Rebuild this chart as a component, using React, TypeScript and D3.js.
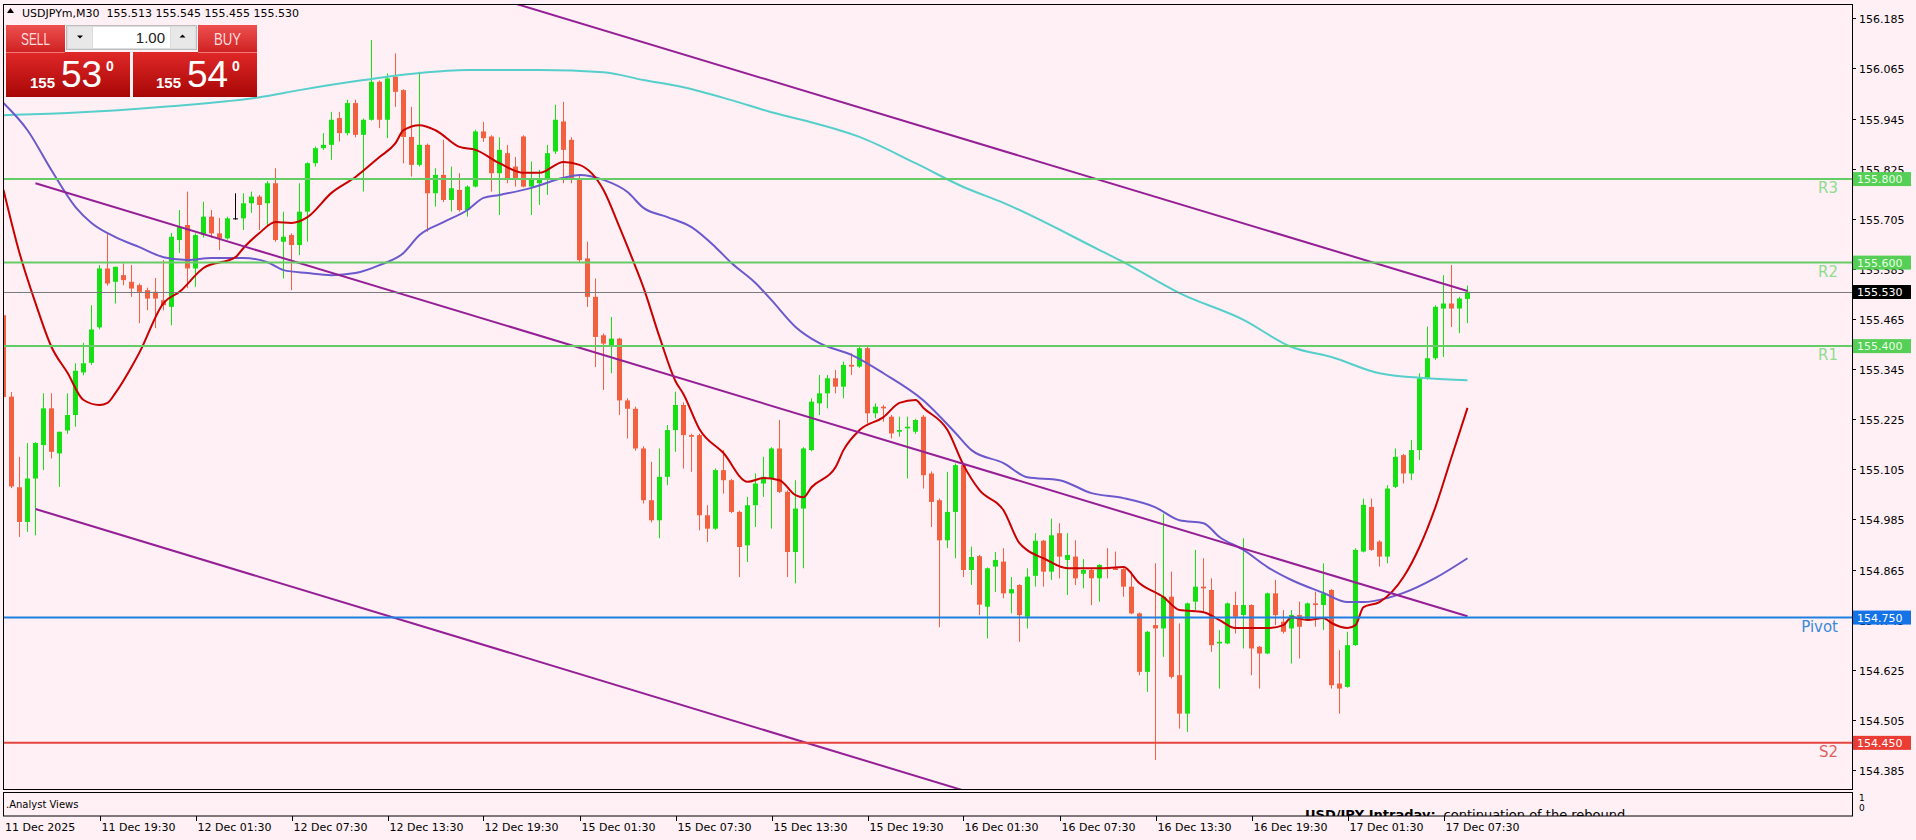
import React, { useEffect, useRef } from 'react';
import * as d3 from 'd3';

// USDJPYm M30 candles, 11 Dec 13:30 .. 17 Dec 09:00
const opens = [
  155.474, 155.279, 155.062, 154.979, 155.083, 155.163, 155.251, 155.143, 155.198, 155.235,
  155.337, 155.36, 155.445, 155.586, 155.554, 155.57, 155.554, 155.546, 155.534, 155.53,
  155.51, 155.494, 155.654, 155.69, 155.586, 155.666, 155.71, 155.67, 155.658, 155.706,
  155.706, 155.742, 155.758, 155.742, 155.79, 155.65, 155.666, 155.642, 155.722, 155.838,
  155.874, 155.882, 155.946, 155.91, 155.982, 155.906, 155.942, 156.033, 155.942, 156.045,
  156.013, 155.901, 155.834, 155.882, 155.766, 155.81, 155.75, 155.774, 155.726, 155.782,
  155.914, 155.902, 155.814, 155.862, 155.83, 155.902, 155.782, 155.79, 155.798, 155.866,
  155.938, 155.894, 155.802, 155.61, 155.518, 155.426, 155.398, 155.418, 155.27, 155.25,
  155.155, 155.031, 154.983, 155.087, 155.199, 155.259, 155.187, 155.187, 154.995, 154.963,
  155.103, 155.079, 155.003, 154.923, 155.019, 155.071, 155.083, 155.155, 155.051, 154.907,
  155.011, 155.151, 155.263, 155.287, 155.323, 155.303, 155.355, 155.351, 155.395, 155.239,
  155.255, 155.231, 155.195, 155.203, 155.195, 155.231, 155.095, 155.031, 154.935, 155.003,
  155.115, 154.864, 154.897, 154.776, 154.872, 154.884, 154.808, 154.828, 154.752, 154.85,
  154.934, 154.86, 154.952, 154.888, 154.896, 154.855, 154.864, 154.844, 154.87, 154.868,
  154.866, 154.824, 154.76, 154.62, 154.732, 154.724, 154.8, 154.612, 154.52, 154.788,
  154.824, 154.816, 154.688, 154.688, 154.78, 154.756, 154.78, 154.68, 154.664, 154.808,
  154.74, 154.724, 154.756, 154.744, 154.784, 154.78, 154.816, 154.592, 154.584, 154.684,
  154.908, 155.015, 154.932, 154.896, 155.063, 155.139, 155.095, 155.151, 155.323, 155.371,
  155.49, 155.502, 155.49, 155.513,
];
const highs = [
  155.541, 155.29, 155.135, 155.168, 155.17, 155.287, 155.287, 155.195, 155.287, 155.359,
  155.408, 155.498, 155.594, 155.671, 155.59, 155.598, 155.594, 155.55, 155.54, 155.563,
  155.606, 155.671, 155.726, 155.77, 155.67, 155.746, 155.726, 155.707, 155.71, 155.766,
  155.766, 155.77, 155.762, 155.795, 155.826, 155.722, 155.67, 155.79, 155.84, 155.878,
  155.91, 155.961, 155.961, 155.99, 155.99, 155.945, 156.133, 156.036, 156.053, 156.101,
  156.015, 155.973, 156.057, 155.885, 155.826, 155.894, 155.83, 155.814, 155.785, 155.918,
  155.937, 155.905, 155.9, 155.882, 155.853, 155.905, 155.842, 155.822, 155.882, 155.978,
  155.985, 155.9, 155.81, 155.65, 155.562, 155.43, 155.47, 155.42, 155.275, 155.255,
  155.16, 155.123, 155.155, 155.211, 155.291, 155.265, 155.19, 155.19, 155.019, 155.107,
  155.151, 155.082, 155.006, 155.039, 155.095, 155.135, 155.158, 155.223, 155.055, 155.079,
  155.158, 155.275, 155.331, 155.331, 155.343, 155.363, 155.383, 155.398, 155.398, 155.263,
  155.259, 155.235, 155.231, 155.231, 155.226, 155.235, 155.1, 155.035, 155.099, 155.119,
  155.119, 154.92, 154.9, 154.87, 154.907, 154.916, 154.847, 154.83, 154.868, 154.952,
  154.936, 154.987, 154.976, 154.952, 154.935, 154.89, 154.866, 154.878, 154.916, 154.908,
  154.868, 154.86, 154.762, 154.718, 154.88, 154.999, 154.86, 154.736, 154.786, 154.912,
  154.892, 154.844, 154.72, 154.786, 154.812, 154.94, 154.782, 154.682, 154.81, 154.84,
  154.768, 154.768, 154.788, 154.786, 154.812, 154.88, 154.818, 154.672, 154.716, 154.916,
  155.035, 155.035, 154.935, 155.067, 155.155, 155.142, 155.175, 155.335, 155.447, 155.498,
  155.57, 155.594, 155.518, 155.545,
];
const lows = [
  155.222, 155.06, 154.943, 154.955, 154.947, 155.103, 155.131, 155.063, 155.19, 155.207,
  155.33, 155.355, 155.44, 155.545, 155.502, 155.546, 155.518, 155.455, 155.486, 155.443,
  155.486, 155.45, 155.623, 155.539, 155.542, 155.66, 155.659, 155.63, 155.655, 155.703,
  155.678, 155.719, 155.678, 155.686, 155.65, 155.562, 155.534, 155.618, 155.65, 155.83,
  155.87, 155.846, 155.89, 155.905, 155.9, 155.77, 155.94, 155.922, 155.898, 155.973,
  155.838, 155.806, 155.83, 155.674, 155.734, 155.745, 155.722, 155.722, 155.71, 155.78,
  155.889, 155.77, 155.714, 155.79, 155.782, 155.78, 155.714, 155.738, 155.762, 155.86,
  155.79, 155.79, 155.6, 155.494, 155.35, 155.295, 155.335, 155.235, 155.179, 155.15,
  155.023, 154.978, 154.94, 155.067, 155.147, 155.107, 155.099, 154.959, 154.931, 154.96,
  155.047, 155.0, 154.847, 154.883, 154.967, 155.039, 154.963, 155.048, 154.847, 154.832,
  154.868, 155.148, 155.235, 155.251, 155.287, 155.275, 155.331, 155.348, 155.215, 155.227,
  155.219, 155.179, 155.183, 155.083, 155.19, 155.059, 154.967, 154.727, 154.916, 154.892,
  154.847, 154.828, 154.756, 154.7, 154.811, 154.796, 154.76, 154.692, 154.724, 154.824,
  154.824, 154.84, 154.844, 154.804, 154.828, 154.82, 154.78, 154.788, 154.844, 154.864,
  154.8, 154.758, 154.612, 154.572, 154.409, 154.656, 154.604, 154.484, 154.476, 154.768,
  154.764, 154.668, 154.58, 154.686, 154.712, 154.676, 154.612, 154.58, 154.662, 154.732,
  154.712, 154.64, 154.652, 154.742, 154.728, 154.72, 154.58, 154.52, 154.582, 154.682,
  154.906, 154.91, 154.872, 154.88, 155.06, 155.071, 155.079, 155.127, 155.32, 155.367,
  155.374, 155.446, 155.431, 155.455,
];
const closes = [
  155.278, 155.064, 154.979, 155.083, 155.168, 155.251, 155.147, 155.195, 155.235, 155.341,
  155.359, 155.44, 155.586, 155.55, 155.59, 155.558, 155.538, 155.53, 155.514, 155.514,
  155.498, 155.662, 155.686, 155.586, 155.666, 155.71, 155.67, 155.658, 155.706, 155.706,
  155.742, 155.758, 155.738, 155.79, 155.654, 155.662, 155.642, 155.722, 155.838, 155.874,
  155.882, 155.942, 155.91, 155.982, 155.906, 155.942, 156.033, 155.942, 156.041, 156.009,
  155.901, 155.834, 155.882, 155.766, 155.81, 155.75, 155.778, 155.726, 155.782, 155.914,
  155.898, 155.814, 155.87, 155.798, 155.798, 155.782, 155.798, 155.798, 155.862, 155.942,
  155.87, 155.798, 155.606, 155.518, 155.422, 155.406, 155.418, 155.27, 155.25, 155.155,
  155.031, 154.983, 155.087, 155.199, 155.259, 155.187, 155.183, 154.995, 154.963, 155.103,
  155.079, 155.003, 154.919, 155.019, 155.071, 155.087, 155.155, 155.051, 154.907, 155.011,
  155.155, 155.267, 155.287, 155.323, 155.303, 155.355, 155.351, 155.395, 155.239, 155.255,
  155.251, 155.191, 155.199, 155.207, 155.223, 155.091, 155.027, 154.935, 155.003, 155.115,
  154.864, 154.895, 154.781, 154.868, 154.888, 154.808, 154.818, 154.756, 154.848, 154.934,
  154.86, 154.947, 154.896, 154.9, 154.844, 154.864, 154.844, 154.876, 154.866, 154.864,
  154.824, 154.76, 154.62, 154.716, 154.724, 154.8, 154.608, 154.52, 154.784, 154.824,
  154.82, 154.684, 154.692, 154.784, 154.752, 154.78, 154.676, 154.664, 154.808, 154.756,
  154.716, 154.756, 154.728, 154.784, 154.78, 154.808, 154.588, 154.58, 154.684, 154.912,
  155.02, 154.912, 154.896, 155.059, 155.135, 155.095, 155.151, 155.323, 155.371, 155.494,
  155.502, 155.49, 155.514, 155.53,
];

// moving averages (bar index -> value)
const fastMaBars = [0, 2, 4, 6, 8, 10, 12, 13, 14, 16, 17, 20, 22, 25, 29, 30, 32, 34, 36, 38, 41, 44, 47, 49, 50, 52, 54, 57, 59, 62, 65, 67, 70, 72, 75, 77, 79, 80, 82, 84, 85, 87, 90, 93, 95, 97, 99, 100, 101, 104, 105, 107, 110, 112, 114, 115, 118, 120, 122, 125, 127, 128, 130, 133, 137, 140, 142, 145, 147, 150, 152, 154, 158, 160, 161, 163, 165, 166, 168, 169, 170, 172, 175, 177, 179, 181, 183];
const fastMaValues = [155.774, 155.623, 155.503, 155.398, 155.336, 155.271, 155.259, 155.264, 155.288, 155.35, 155.385, 155.503, 155.53, 155.587, 155.613, 155.635, 155.671, 155.697, 155.695, 155.709, 155.767, 155.805, 155.853, 155.886, 155.917, 155.929, 155.917, 155.877, 155.87, 155.838, 155.815, 155.815, 155.841, 155.834, 155.774, 155.685, 155.59, 155.54, 155.422, 155.316, 155.285, 155.201, 155.144, 155.075, 155.084, 155.079, 155.043, 155.038, 155.062, 155.11, 155.151, 155.199, 155.23, 155.264, 155.271, 155.252, 155.199, 155.115, 155.055, 155.007, 154.928, 154.911, 154.892, 154.868, 154.868, 154.871, 154.832, 154.799, 154.768, 154.763, 154.744, 154.725, 154.725, 154.732, 154.751, 154.744, 154.749, 154.737, 154.725, 154.732, 154.775, 154.787, 154.847, 154.919, 155.015, 155.134, 155.252];

const midMaBars = [0, 3, 6, 9, 11, 14, 17, 20, 23, 26, 30, 33, 35, 38, 41, 44, 47, 50, 52, 55, 58, 60, 62, 66, 70, 72, 75, 78, 80, 83, 86, 89, 91, 94, 96, 99, 102, 106, 110, 115, 119, 121, 125, 128, 132, 136, 140, 144, 147, 150, 152, 155, 158, 161, 165, 168, 170, 173, 175, 179, 183];
const midMaValues = [155.982, 155.917, 155.821, 155.733, 155.695, 155.661, 155.637, 155.613, 155.606, 155.611, 155.611, 155.601, 155.582, 155.575, 155.57, 155.575, 155.594, 155.623, 155.666, 155.697, 155.726, 155.755, 155.762, 155.779, 155.803, 155.81, 155.798, 155.769, 155.731, 155.709, 155.685, 155.637, 155.599, 155.551, 155.51, 155.446, 155.407, 155.379, 155.335, 155.27, 155.192, 155.151, 155.12, 155.086, 155.079, 155.048, 155.036, 155.014, 154.983, 154.976, 154.943, 154.912, 154.871, 154.84, 154.809, 154.787, 154.787, 154.797, 154.809, 154.845, 154.892];

const slowMaBars = [0, 8, 20, 32, 37, 45, 52, 58, 67, 75, 80, 85, 91, 96, 100, 107, 114, 120, 125, 137, 140, 147, 155, 161, 166, 172, 178, 183];
const slowMaValues = [155.953, 155.958, 155.973, 155.996, 156.013, 156.037, 156.054, 156.061, 156.061, 156.056, 156.037, 156.02, 155.989, 155.96, 155.941, 155.901, 155.838, 155.781, 155.743, 155.63, 155.601, 155.527, 155.463, 155.398, 155.374, 155.335, 155.323, 155.318];

// channel trend lines, anchor bars and prices
const trendStartBars = [64, 4, 4];
const trendStartPrices = [156.22, 155.79, 155.01];
const trendEndBars = [183, 183, 183];
const trendEndPrices = [155.532, 154.753, 153.97];

// pivot levels
const levelNames = ['R3', 'R2', 'R1', 'Pivot', 'S2'];
const levelValues = [155.8, 155.6, 155.4, 154.75, 154.45];

const priceTicks = [156.185, 156.065, 155.945, 155.825, 155.705, 155.585, 155.465, 155.345, 155.225, 155.105, 154.985, 154.865, 154.745, 154.625, 154.505, 154.385];
const timeLabels = ['11 Dec 2025', '11 Dec 19:30', '12 Dec 01:30', '12 Dec 07:30', '12 Dec 13:30', '12 Dec 19:30', '15 Dec 01:30', '15 Dec 07:30', '15 Dec 13:30', '15 Dec 19:30', '16 Dec 01:30', '16 Dec 07:30', '16 Dec 13:30', '16 Dec 19:30', '17 Dec 01:30', '17 Dec 07:30'];
const timeLabelBars = [0, 12, 24, 36, 48, 60, 72, 84, 96, 108, 120, 132, 144, 156, 168, 180];

const lastPrice = 155.53;
const FONT = 'DejaVu Sans, sans-serif';
const levelColors = ['#66cc66', '#66cc66', '#66cc66', '#1e7fe0', '#e5463f'];
const levelTextColors = ['#8edc8e', '#8edc8e', '#8edc8e', '#3a8ad8', '#e06060'];

const App: React.FC = () => {
  const svgRef = useRef<SVGSVGElement>(null);

  useEffect(() => {
    if (!svgRef.current) return;
    const svg = d3.select(svgRef.current);
    svg.selectAll('*').remove();

    const left = 4, right = 1852, top = 5, bottom = 789;

    const x = d3.scaleLinear().domain([0, 183]).range([3.5, 1467.5]);
    const y = d3.scaleLinear().domain([154.385, 156.185]).range([770, 18.3]);

    const defs = svg.append('defs');
    defs.append('clipPath').attr('id', 'plot')
      .append('rect').attr('x', left).attr('y', top).attr('width', right - left).attr('height', bottom - top);
    defs.append('clipPath').attr('id', 'sub')
      .append('rect').attr('x', left).attr('y', 793).attr('width', right - left).attr('height', 23);
    const g1 = defs.append('linearGradient').attr('id', 'btnTop').attr('x1', 0).attr('y1', 0).attr('x2', 0).attr('y2', 1);
    g1.append('stop').attr('offset', '0%').attr('stop-color', '#ee5050');
    g1.append('stop').attr('offset', '100%').attr('stop-color', '#cf2222');
    const g2 = defs.append('linearGradient').attr('id', 'btnBottom').attr('x1', 0).attr('y1', 0).attr('x2', 0).attr('y2', 1);
    g2.append('stop').attr('offset', '0%').attr('stop-color', '#e02828');
    g2.append('stop').attr('offset', '100%').attr('stop-color', '#a80606');

    // background
    svg.append('rect').attr('width', 1916).attr('height', 840).attr('fill', '#fff0f5');

    const plot = svg.append('g').attr('clip-path', 'url(#plot)');

    // candles
    const idx = d3.range(opens.length);
    const colorOf = (i: number) =>
      closes[i] > opens[i] ? '#14e014' : closes[i] < opens[i] ? '#f2603f' : '#000000';

    plot.append('g').selectAll('line')
      .data(idx).enter().append('line')
      .attr('x1', i => x(i)).attr('x2', i => x(i))
      .attr('y1', i => y(highs[i])).attr('y2', i => y(lows[i]))
      .attr('stroke', i => colorOf(i)).attr('stroke-width', 1);

    plot.append('g').selectAll('rect')
      .data(idx).enter().append('rect')
      .attr('x', i => x(i) - 2.5)
      .attr('width', 5)
      .attr('y', i => y(Math.max(opens[i], closes[i])))
      .attr('height', i => Math.max(1, y(Math.min(opens[i], closes[i])) - y(Math.max(opens[i], closes[i]))))
      .attr('fill', i => colorOf(i));

    // moving averages
    const maLine = (bars: number[]) => d3.line<number>()
      .x((_, k) => x(bars[k]))
      .y(d => y(d))
      .curve(d3.curveMonotoneX);

    plot.append('path').datum(slowMaValues).attr('d', maLine(slowMaBars))
      .attr('fill', 'none').attr('stroke', '#56cfcb').attr('stroke-width', 2);
    plot.append('path').datum(midMaValues).attr('d', maLine(midMaBars))
      .attr('fill', 'none').attr('stroke', '#6a5acd').attr('stroke-width', 2);
    plot.append('path').datum(fastMaValues).attr('d', maLine(fastMaBars))
      .attr('fill', 'none').attr('stroke', '#c80000').attr('stroke-width', 2);

    // trend channel
    plot.append('g').selectAll('line')
      .data(d3.range(trendStartBars.length)).enter().append('line')
      .attr('x1', k => x(trendStartBars[k])).attr('y1', k => y(trendStartPrices[k]))
      .attr('x2', k => x(trendEndBars[k])).attr('y2', k => y(trendEndPrices[k]))
      .attr('stroke', '#951f95').attr('stroke-width', 2);

    // levels
    levelValues.forEach((v, k) => {
      plot.append('line')
        .attr('x1', left).attr('x2', right)
        .attr('y1', y(v)).attr('y2', y(v))
        .attr('stroke', levelColors[k]).attr('stroke-width', 2);
      plot.append('text')
        .attr('x', 1838).attr('y', y(v) + 14)
        .attr('text-anchor', 'end')
        .attr('font-family', FONT).attr('font-size', 15)
        .attr('fill', levelTextColors[k])
        .text(levelNames[k]);
    });

    // bid line
    plot.append('line')
      .attr('x1', left).attr('x2', right)
      .attr('y1', Math.round(y(lastPrice)) + 0.5).attr('y2', Math.round(y(lastPrice)) + 0.5)
      .attr('stroke', '#7a7a7a').attr('stroke-width', 1);

    // frames
    svg.append('rect').attr('x', 3.5).attr('y', 4.5).attr('width', 1849).attr('height', 785)
      .attr('fill', 'none').attr('stroke', '#000');
    svg.append('rect').attr('x', 3.5).attr('y', 792.5).attr('width', 1849).attr('height', 23.5)
      .attr('fill', 'none').attr('stroke', '#000');

    // price axis
    const axis = svg.append('g');
    priceTicks.forEach(p => {
      const py = Math.round(y(p)) + 0.5;
      axis.append('line').attr('x1', 1852).attr('x2', 1856).attr('y1', py).attr('y2', py).attr('stroke', '#000');
      axis.append('text').attr('x', 1859).attr('y', py + 4)
        .attr('font-family', FONT).attr('font-size', 11).attr('fill', '#000')
        .text(p.toFixed(3));
    });

    // level price tags
    const tagBg = ['#55cf55', '#55cf55', '#55cf55', '#1473e6', '#ea3c32'];
    levelValues.forEach((v, k) => {
      const py = y(v);
      axis.append('rect').attr('x', 1853).attr('y', py - 7).attr('width', 58).attr('height', 14).attr('fill', tagBg[k]);
      axis.append('text').attr('x', 1857).attr('y', py + 4)
        .attr('font-family', FONT).attr('font-size', 11)
        .attr('fill', k < 3 ? '#e8ffe8' : '#ffffff')
        .text(v.toFixed(3));
    });
    const ly = Math.round(y(lastPrice));
    axis.append('rect').attr('x', 1853).attr('y', ly - 7).attr('width', 58).attr('height', 14).attr('fill', '#000');
    axis.append('text').attr('x', 1857).attr('y', ly + 4)
      .attr('font-family', FONT).attr('font-size', 11).attr('fill', '#fff')
      .text(lastPrice.toFixed(3));

    // time axis
    timeLabels.forEach((t, k) => {
      const tx = Math.round(x(timeLabelBars[k])) + 0.5;
      if (k > 0) {
        svg.append('line').attr('x1', tx).attr('x2', tx).attr('y1', 816).attr('y2', 821).attr('stroke', '#000');
      }
      svg.append('text').attr('x', k === 0 ? 5 : tx + 1).attr('y', 831)
        .attr('font-family', FONT).attr('font-size', 11).attr('fill', '#000')
        .text(t);
    });

    // sub window
    svg.append('text').attr('x', 6).attr('y', 808)
      .attr('font-family', FONT).attr('font-size', 10).attr('fill', '#000')
      .text('.Analyst Views');
    svg.append('text').attr('x', 1859).attr('y', 801)
      .attr('font-family', FONT).attr('font-size', 9).attr('fill', '#000').text('1');
    svg.append('text').attr('x', 1859).attr('y', 811)
      .attr('font-family', FONT).attr('font-size', 9).attr('fill', '#000').text('0');
    const note = svg.append('text').attr('clip-path', 'url(#sub)')
      .attr('x', 1305).attr('y', 819)
      .attr('font-family', FONT).attr('font-size', 13).attr('fill', '#000');
    note.append('tspan').attr('font-weight', 'bold').attr('text-decoration', 'underline').text('USD/JPY Intraday:');
    note.append('tspan').attr('dx', 8).text('continuation of the rebound.');

    // title
    svg.append('path').attr('d', 'M7,13 L10.5,8 L14,13 Z').attr('fill', '#000');
    svg.append('text').attr('x', 22).attr('y', 17)
      .attr('font-family', FONT).attr('font-size', 11).attr('fill', '#000')
      .attr('xml:space', 'preserve')
      .text('USDJPYm,M30  155.513 155.545 155.455 155.530');

    // one click trading panel
    const panel = svg.append('g');
    const PF = 'Liberation Sans, Arial, sans-serif';
    panel.append('rect').attr('x', 6).attr('y', 25).attr('width', 59).attr('height', 27).attr('fill', 'url(#btnTop)');
    panel.append('rect').attr('x', 198).attr('y', 25).attr('width', 59).attr('height', 27).attr('fill', 'url(#btnTop)');
    panel.append('text').attr('x', 35.5).attr('y', 45).attr('text-anchor', 'middle')
      .attr('font-family', PF).attr('font-size', 17).attr('fill', '#ffdede')
      .attr('textLength', 29).attr('lengthAdjust', 'spacingAndGlyphs').text('SELL');
    panel.append('text').attr('x', 227.5).attr('y', 45).attr('text-anchor', 'middle')
      .attr('font-family', PF).attr('font-size', 17).attr('fill', '#ffdede')
      .attr('textLength', 27).attr('lengthAdjust', 'spacingAndGlyphs').text('BUY');

    panel.append('rect').attr('x', 66.5).attr('y', 25.5).attr('width', 130).attr('height', 24)
      .attr('fill', '#dcdcdc').attr('stroke', '#bdbdbd');
    panel.append('rect').attr('x', 68).attr('y', 27).attr('width', 24).attr('height', 21).attr('fill', '#e8e8e8');
    panel.append('rect').attr('x', 93).attr('y', 27).attr('width', 77).attr('height', 21).attr('fill', '#ffffff');
    panel.append('rect').attr('x', 171).attr('y', 27).attr('width', 24).attr('height', 21).attr('fill', '#e8e8e8');
    panel.append('path').attr('d', 'M77,35.5 L83,35.5 L80,38.5 Z').attr('fill', '#000');
    panel.append('path').attr('d', 'M179.5,37.5 L185.5,37.5 L182.5,34.5 Z').attr('fill', '#000');
    panel.append('text').attr('x', 165).attr('y', 43).attr('text-anchor', 'end')
      .attr('font-family', PF).attr('font-size', 15).attr('fill', '#222').text('1.00');

    panel.append('rect').attr('x', 6).attr('y', 52).attr('width', 124).attr('height', 45).attr('fill', 'url(#btnBottom)');
    panel.append('rect').attr('x', 133).attr('y', 52).attr('width', 124).attr('height', 45).attr('fill', 'url(#btnBottom)');
    panel.append('line').attr('x1', 6).attr('x2', 65).attr('y1', 52.5).attr('y2', 52.5).attr('stroke', '#f07a7a');
    panel.append('line').attr('x1', 198).attr('x2', 257).attr('y1', 52.5).attr('y2', 52.5).attr('stroke', '#f07a7a');

    const priceBox = (bx: number, big: string) => {
      panel.append('text').attr('x', bx + 24).attr('y', 88)
        .attr('font-family', PF).attr('font-size', 15).attr('font-weight', 'bold').attr('fill', '#fff').text('155');
      panel.append('text').attr('x', bx + 55).attr('y', 87)
        .attr('font-family', PF).attr('font-size', 37).attr('fill', '#fff').text(big);
      panel.append('text').attr('x', bx + 100).attr('y', 71)
        .attr('font-family', PF).attr('font-size', 14).attr('font-weight', 'bold').attr('fill', '#fff').text('0');
    };
    priceBox(6, '53');
    priceBox(132, '54');
  }, []);

  return (
    <div style={{ position: 'absolute', left: 0, top: 0, width: 1916, height: 840 }}>
      <svg ref={svgRef} width={1916} height={840} style={{ display: 'block' }} />
    </div>
  );
};

export default App;
